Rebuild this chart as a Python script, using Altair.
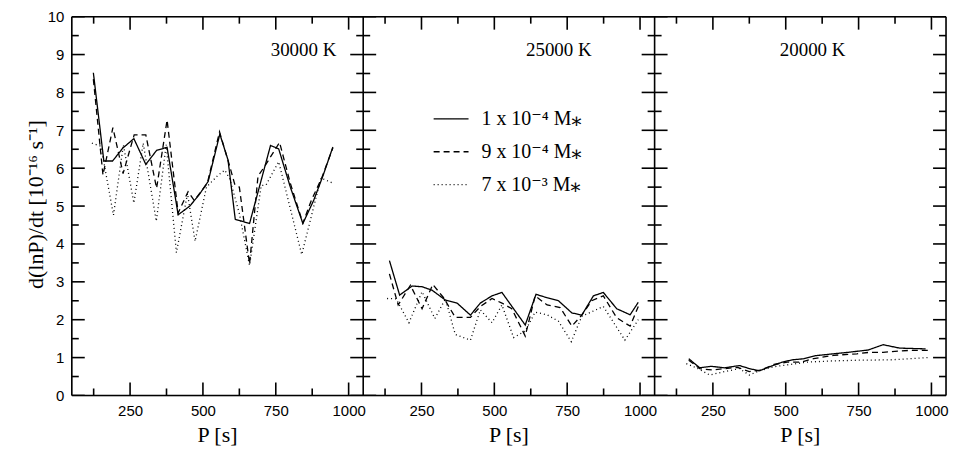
import altair as alt
import pandas as pd

# ---------------- data ----------------
MASSES = ["1 x 10⁻⁴ M⁎", "9 x 10⁻⁴ M⁎", "7 x 10⁻³ M⁎"]
PANELS = ["30000 K", "25000 K", "20000 K"]
PANEL_OFFSET = [0, 1000, 2000]

# 30000 K
t30_solid_x = [124, 160, 190, 225, 263, 304, 341, 377, 415, 455, 487, 518, 558, 586, 611, 660, 697, 732, 760, 800, 843, 880, 912, 946]
t30_solid_y = [8.52, 6.19, 6.19, 6.53, 6.78, 6.10, 6.47, 6.55, 4.77, 5.00, 5.30, 5.65, 6.90, 6.22, 4.65, 4.54, 5.60, 6.60, 6.51, 5.50, 4.54, 5.15, 5.80, 6.56]
t30_dash_x = [124, 157, 191, 226, 264, 304, 341, 377, 415, 449, 470, 515, 557, 592, 609, 625, 660, 689, 712, 763, 800, 843, 872, 907, 946]
t30_dash_y = [8.35, 5.82, 7.07, 5.86, 6.88, 6.88, 5.47, 7.27, 4.82, 5.38, 5.15, 5.60, 6.96, 6.05, 5.58, 5.50, 3.47, 5.79, 6.05, 6.68, 5.60, 4.55, 5.15, 5.73, 6.54]
t30_dot_x = [119, 150, 193, 227, 263, 295, 340, 374, 409, 447, 473, 512, 550, 575, 592, 625, 660, 700, 717, 760, 839, 905, 942]
t30_dot_y = [6.66, 6.58, 4.76, 6.62, 5.08, 6.66, 4.60, 6.62, 3.77, 5.33, 4.07, 5.50, 5.80, 5.95, 5.72, 4.80, 3.43, 5.54, 5.56, 6.17, 3.72, 5.74, 5.62]

# 25000 K
t25_solid_x = [140, 175, 218, 252, 286, 332, 372, 418, 452, 492, 526, 606, 643, 681, 720, 766, 800, 840, 874, 920, 966, 994]
t25_solid_y = [3.56, 2.65, 2.89, 2.87, 2.78, 2.52, 2.44, 2.12, 2.44, 2.63, 2.72, 1.86, 2.67, 2.58, 2.50, 2.18, 2.12, 2.63, 2.72, 2.29, 2.13, 2.46]
t25_dash_x = [140, 170, 212, 252, 289, 326, 366, 418, 452, 492, 526, 560, 606, 640, 681, 726, 766, 800, 834, 874, 920, 966, 994]
t25_dash_y = [3.21, 2.39, 2.91, 2.29, 2.93, 2.58, 2.06, 2.06, 2.35, 2.56, 2.44, 2.29, 1.57, 2.63, 2.39, 2.32, 1.83, 2.12, 2.50, 2.63, 2.05, 1.83, 2.35]
t25_dot_x = [132, 163, 207, 252, 296, 332, 366, 418, 452, 492, 526, 566, 606, 640, 681, 720, 764, 800, 874, 948, 994]
t25_dot_y = [2.56, 2.55, 1.92, 2.74, 2.03, 2.55, 1.61, 1.46, 2.26, 1.92, 2.39, 1.53, 1.70, 2.20, 2.13, 1.96, 1.42, 2.09, 2.35, 1.46, 2.00]

# 20000 K
t20_solid_x = [167, 205, 244, 290, 341, 375, 409, 449, 488, 522, 562, 602, 664, 715, 783, 834, 891, 980]
t20_solid_y = [0.97, 0.73, 0.77, 0.73, 0.79, 0.71, 0.65, 0.77, 0.88, 0.94, 0.97, 1.05, 1.10, 1.14, 1.20, 1.34, 1.25, 1.23]
t20_dash_x = [167, 205, 250, 290, 335, 375, 415, 460, 505, 551, 596, 664, 744, 789, 834, 925, 988]
t20_dash_y = [0.93, 0.71, 0.67, 0.71, 0.74, 0.63, 0.67, 0.82, 0.88, 0.88, 0.97, 1.06, 1.10, 1.14, 1.14, 1.19, 1.19]
t20_dot_x = [159, 199, 239, 290, 341, 375, 409, 460, 517, 573, 653, 744, 857, 988]
t20_dot_y = [0.84, 0.71, 0.54, 0.63, 0.71, 0.54, 0.65, 0.76, 0.82, 0.88, 0.91, 0.93, 0.94, 1.00]

SERIES = [
    [(t30_solid_x, t30_solid_y), (t30_dash_x, t30_dash_y), (t30_dot_x, t30_dot_y)],
    [(t25_solid_x, t25_solid_y), (t25_dash_x, t25_dash_y), (t25_dot_x, t25_dot_y)],
    [(t20_solid_x, t20_solid_y), (t20_dash_x, t20_dash_y), (t20_dot_x, t20_dot_y)],
]

X_MAJOR = [250, 500, 750, 1000]
X_MINOR = [125, 375, 625, 875]
Y_MAJOR = [0, 1, 2, 3, 4, 5, 6, 7, 8, 9, 10]
Y_MINOR = [0.5, 1.5, 2.5, 3.5, 4.5, 5.5, 6.5, 7.5, 8.5, 9.5]
PANEL_EDGES = [50, 1050, 2050, 3050]
X_DOMAIN = [50, 3050]
Y_DOMAIN = [0, 10]
LABEL_X = [958, 834, 705]
LABEL_Y = [9.13, 9.13, 9.13]
X_TITLE = "P [s]"
Y_TITLE = "d(lnP)/dt  [10⁻¹⁶ s⁻¹]"

W, H = 877, 380
MAJ_PX, MIN_PX = 13, 7   # tick lengths in pixels (style)
HALF_W = 0.8             # half tick thickness in pixels (style)

# ---------------- tables ----------------
rows = []
for pi, panel in enumerate(PANELS):
    for mi, mass in enumerate(MASSES):
        xs, ys = SERIES[pi][mi]
        for x, y in zip(xs, ys):
            rows.append({"P": x + PANEL_OFFSET[pi], "rate": y, "mass": mass, "panel": panel})
df = pd.DataFrame(rows)

# inward ticks as thin filled rectangles (pixel sizes converted to data units)
xu = (X_DOMAIN[1] - X_DOMAIN[0]) / W
yu = (Y_DOMAIN[1] - Y_DOMAIN[0]) / H
ticks = []
for o in PANEL_OFFSET:
    for vals, px in ((X_MAJOR, MAJ_PX), (X_MINOR, MIN_PX)):
        for v in vals:
            c = v + o
            ticks.append({"a": c - HALF_W * xu, "a2": c + HALF_W * xu, "b": Y_DOMAIN[0], "b2": Y_DOMAIN[0] + px * yu})
            ticks.append({"a": c - HALF_W * xu, "a2": c + HALF_W * xu, "b": Y_DOMAIN[1] - px * yu, "b2": Y_DOMAIN[1]})
for e in PANEL_EDGES:
    for vals, px in ((Y_MAJOR, MAJ_PX), (Y_MINOR, MIN_PX)):
        for v in vals:
            lo, hi = max(v - HALF_W * yu, Y_DOMAIN[0]), min(v + HALF_W * yu, Y_DOMAIN[1])
            if e < X_DOMAIN[1]:
                ticks.append({"a": e, "a2": e + px * xu, "b": lo, "b2": hi})
            if e > X_DOMAIN[0]:
                ticks.append({"a": e - px * xu, "a2": e, "b": lo, "b2": hi})
tk = pd.DataFrame(ticks)

edges = pd.DataFrame({"P": PANEL_EDGES})
hedges = pd.DataFrame({"rate": Y_DOMAIN})
lab = pd.DataFrame({"P": [x + o for x, o in zip(LABEL_X, PANEL_OFFSET)], "rate": LABEL_Y, "text": PANELS})
xtitle = pd.DataFrame({"P": [550 + o for o in PANEL_OFFSET], "text": [X_TITLE] * 3})

label_values = [v + o for o in PANEL_OFFSET for v in X_MAJOR]

xscale = alt.Scale(domain=X_DOMAIN, nice=False, zero=False)
yscale = alt.Scale(domain=Y_DOMAIN, nice=False, zero=False)

x_enc = alt.X(
    "P:Q", scale=xscale,
    axis=alt.Axis(values=label_values, labelExpr="format(((datum.value - 1) % 1000) + 1, 'd')",
                  ticks=False, domain=False, grid=False, title=None,
                  labelFont="Liberation Sans", labelFontSize=15, labelColor="black",
                  labelPadding=8, labelFlush=False, labelOverlap=False),
)
y_enc = alt.Y(
    "rate:Q", scale=yscale,
    axis=alt.Axis(values=Y_MAJOR, tickCount=11, ticks=False, domain=False, grid=False, title=Y_TITLE,
                  labelFont="Liberation Sans", labelFontSize=15, labelColor="black",
                  labelPadding=8, labelFlush=False, labelOverlap=False, labelSeparation=0,
                  titleFont="Liberation Serif", titleFontSize=22, titleFontWeight="normal",
                  titleColor="black", titleX=-36, titleY=188, titleAngle=270,
                  titleAlign="center", titleBaseline="middle"),
)

frame_v = alt.Chart(edges).mark_rule(color="black", strokeWidth=1.6).encode(x=alt.X("P:Q", scale=xscale))
frame_h = alt.Chart(hedges).mark_rule(color="black", strokeWidth=1.6).encode(y=alt.Y("rate:Q", scale=yscale))

lines = alt.Chart(df).mark_line(color="black", strokeWidth=1.3).encode(
    x=x_enc,
    y=y_enc,
    strokeDash=alt.StrokeDash(
        "mass:N",
        scale=alt.Scale(domain=MASSES, range=[[1, 0], [6, 4], [1, 3]]),
        legend=alt.Legend(title=None, orient="none", legendX=362, legendY=84,
                          symbolType="stroke", symbolSize=1225, symbolStrokeWidth=1.3,
                          symbolStrokeColor="black", labelFont="Liberation Serif, DejaVu Serif",
                          labelFontSize=20, labelColor="black", labelOffset=12,
                          rowPadding=4, padding=0),
    ),
    detail="panel:N",
)

labels = alt.Chart(lab).mark_text(font="Liberation Serif", fontSize=19, align="right",
                                  baseline="middle", color="black").encode(
    x="P:Q", y="rate:Q", text="text:N")
xtitles = alt.Chart(xtitle).mark_text(font="Liberation Serif", fontSize=22, baseline="middle",
                                      color="black").encode(
    x="P:Q", y=alt.value(420), text="text:N")

tick_layer = alt.Chart(tk).mark_rect(color="black", opacity=1).encode(
    x="a:Q", x2="a2:Q", y="b:Q", y2="b2:Q")

chart = (
    alt.layer(frame_v, frame_h, lines, labels, xtitles, tick_layer)
    .properties(width=W, height=H, autosize=alt.AutoSizeParams(type="none"),
                padding={"left": 64, "top": 8, "right": 4, "bottom": 52})
    .configure_view(stroke=None)
    .configure(background="white")
)

chart.save("out.html", embed_options={"renderer": "svg", "actions": False})
